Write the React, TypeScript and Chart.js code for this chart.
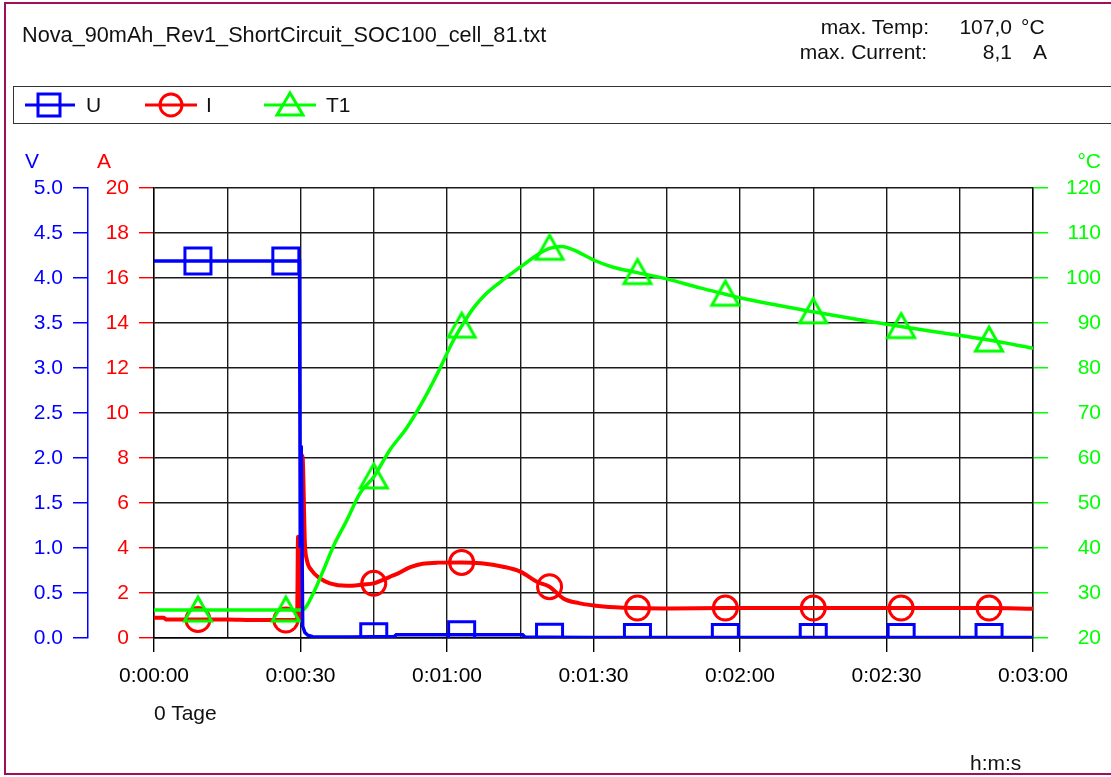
import React, { useEffect, useRef } from 'react';
import { Chart, registerables } from 'chart.js';

Chart.register(...registerables);

// ---------- data ----------
const TITLE = 'Nova_90mAh_Rev1_ShortCircuit_SOC100_cell_81.txt';
const SERIES_NAMES = ['U', 'I', 'T1'];
const AXIS_UNITS = ['V', 'A', '°C'];
const MAX_TEMP_TEXT = ['max. Temp:', '107,0', '°C'];
const MAX_CURRENT_TEXT = ['max. Current:', '8,1', 'A'];
const X_TICK_LABELS = ['0:00:00', '0:00:30', '0:01:00', '0:01:30', '0:02:00', '0:02:30', '0:03:00'];
const DAYS_LABEL = '0 Tage';
const TIME_UNIT = 'h:m:s';

const MARKER_TIMES = [9, 27, 45, 63, 81, 99, 117, 135, 153, 171];

const U_TIME = [0, 9, 27, 29.8, 29.95, 30.15, 30.45, 30.9, 31.5, 32.5, 34, 36, 40, 45, 49.2, 49.6, 55, 63, 70, 75.5, 76, 81, 90, 99, 117, 135, 153, 171, 180];
const U_VALUES = [4.19, 4.19, 4.19, 4.19, 1.0, 2.14, 0.13, 0.06, 0.03, 0.015, 0.012, 0.012, 0.012, 0.015, 0.015, 0.035, 0.035, 0.037, 0.035, 0.035, 0.008, 0.008, 0.005, 0.006, 0.006, 0.006, 0.006, 0.006, 0.005];

const I_TIME = [0, 2, 2.5, 9, 15, 20, 27, 29.3, 29.5, 29.7, 30.1, 30.4, 30.9, 31.3, 32.3, 34, 36, 39.5, 42.9, 45, 48.3, 50, 52.5, 55, 58, 63, 67, 71.5, 75, 78.4, 81, 83.8, 87, 92, 99, 106, 117, 135, 153, 171, 180];
const I_VALUES = [0.9, 0.9, 0.82, 0.82, 0.82, 0.8, 0.8, 0.8, 4.5, 0.8, 0.8, 8.1, 4.2, 3.47, 3.0, 2.65, 2.43, 2.32, 2.38, 2.43, 2.72, 2.87, 3.15, 3.3, 3.35, 3.36, 3.32, 3.17, 2.95, 2.5, 2.28, 1.76, 1.55, 1.4, 1.33, 1.31, 1.33, 1.33, 1.33, 1.33, 1.3];

const T_TIME = [0, 9, 27, 30, 30.6, 32.6, 34.7, 36.7, 39.5, 42.2, 45, 48.3, 51.7, 55.2, 58.6, 61, 63, 65.4, 68, 70.9, 75, 79, 81, 83.5, 86, 90, 94, 99, 105, 111.8, 117, 120, 135, 153, 171, 180];
const T_VALUES = [26.2, 26.2, 26.2, 26.2, 26.3, 29.9, 35.1, 40.3, 46.2, 52.2, 55.8, 61.8, 66.6, 72.9, 80.0, 85.5, 89.3, 93.3, 96.5, 99.1, 102.4, 105.5, 106.6, 107.0, 106.2, 104.0, 102.4, 101.2, 99.8, 97.8, 96.4, 95.6, 92.5, 89.2, 86.2, 84.4];

// ---------- styles ----------
const FONT = '"Liberation Sans", Arial, Helvetica, sans-serif';
const BLUE = '#0000FF';
const RED = '#FF0000';
const GREEN = '#00FF00';
const GRID = '#1a1a1a';
const FRAME = '#A0105A';
const W = 1111;
const H = 777;

const toPoints = (ts: number[], vs: number[]) => ts.map((t, i) => ({ x: t, y: vs[i] }));
const markerRadius = (r: number) => (ctx: any) =>
  ctx.raw && MARKER_TIMES.includes(ctx.raw.x) ? r : 0;

function makeTriangle(): HTMLCanvasElement {
  const c = document.createElement('canvas');
  c.width = 40;
  c.height = 40;
  const g = c.getContext('2d')!;
  g.strokeStyle = GREEN;
  g.lineWidth = 3;
  g.lineJoin = 'miter';
  g.beginPath();
  g.moveTo(20, 20 - 13);
  g.lineTo(20 + 13.5, 20 + 11);
  g.lineTo(20 - 13.5, 20 + 11);
  g.closePath();
  g.stroke();
  return c;
}

function Txt(props: { x?: number; right?: number; top: number; size: number; color?: string; children: React.ReactNode }) {
  const st: React.CSSProperties = {
    position: 'absolute',
    top: props.top,
    fontSize: props.size,
    lineHeight: 1,
    color: props.color || '#000',
    fontFamily: FONT,
    whiteSpace: 'nowrap',
  };
  if (props.right !== undefined) st.right = W - props.right;
  else st.left = props.x;
  return <div style={st}>{props.children}</div>;
}

export default function App() {
  const ref = useRef<HTMLCanvasElement | null>(null);

  useEffect(() => {
    if (!ref.current) return;
    Chart.defaults.font.family = FONT;
    Chart.defaults.font.size = 21;
    const tri = makeTriangle();
    const chart = new Chart(ref.current, {
      type: 'line',
      data: {
        datasets: [
          {
            label: SERIES_NAMES[0],
            data: toPoints(U_TIME, U_VALUES),
            yAxisID: 'yU',
            borderColor: BLUE,
            borderWidth: 3.5,
            tension: 0,
            pointStyle: 'rect',
            pointRadius: markerRadius(18.4),
            pointHoverRadius: markerRadius(18.4),
            pointBorderWidth: 3,
            pointBorderColor: BLUE,
            pointBackgroundColor: 'rgba(0,0,0,0)',
            order: 0,
          },
          {
            label: SERIES_NAMES[1],
            data: toPoints(I_TIME, I_VALUES),
            yAxisID: 'yA',
            borderColor: RED,
            borderWidth: 4,
            cubicInterpolationMode: 'monotone',
            pointStyle: 'circle',
            pointRadius: markerRadius(12),
            pointHoverRadius: markerRadius(12),
            pointBorderWidth: 3,
            pointBorderColor: RED,
            pointBackgroundColor: 'rgba(0,0,0,0)',
            order: 2,
          },
          {
            label: SERIES_NAMES[2],
            data: toPoints(T_TIME, T_VALUES),
            yAxisID: 'yT',
            borderColor: GREEN,
            borderWidth: 3.5,
            cubicInterpolationMode: 'monotone',
            pointStyle: tri,
            pointRadius: markerRadius(16),
            pointHoverRadius: markerRadius(16),
            pointBorderWidth: 3,
            pointBorderColor: GREEN,
            pointBackgroundColor: 'rgba(0,0,0,0)',
            order: 1,
          },
        ],
      },
      options: {
        animation: false,
        responsive: false,
        maintainAspectRatio: false,
        events: [],
        layout: { padding: { left: 10, right: 10, top: 188, bottom: 79 } },
        plugins: { legend: { display: false }, tooltip: { enabled: false } },
        scales: {
          x: {
            type: 'linear',
            min: 0,
            max: 180,
            ticks: {
              stepSize: 15,
              maxTicksLimit: 100,
              autoSkip: false,
              maxRotation: 0,
              minRotation: 0,
              padding: 12,
              color: '#000',
              callback: (v: any) => (Number(v) % 30 === 0 ? X_TICK_LABELS[Number(v) / 30] : ''),
            },
            grid: {
              color: GRID,
              lineWidth: 1.4,
              tickLength: 14,
              tickColor: (ctx: any) => (ctx.tick && ctx.tick.value % 30 === 0 ? '#000' : 'rgba(0,0,0,0)'),
            },
            border: { color: '#000', width: 1.4 },
            afterFit: (s: any) => { s.height = 60; },
          },
          yA: {
            type: 'linear',
            position: 'left',
            weight: 0,
            min: 0,
            max: 20,
            ticks: { stepSize: 2, color: RED, padding: 10 },
            grid: { color: GRID, lineWidth: 1.4, tickLength: 15, tickColor: RED },
            border: { color: '#000', width: 1.4 },
            afterFit: (s: any) => { s.width = 66; },
          },
          yU: {
            type: 'linear',
            position: 'left',
            weight: 1,
            min: 0,
            max: 5,
            ticks: { stepSize: 0.5, color: BLUE, padding: 10, callback: (v: any) => Number(v).toFixed(1) },
            grid: { drawOnChartArea: false, color: BLUE, lineWidth: 1.5, tickLength: 15, tickColor: BLUE },
            border: { color: BLUE, width: 1.5 },
            afterFit: (s: any) => { s.width = 78; },
          },
          yT: {
            type: 'linear',
            position: 'right',
            min: 20,
            max: 120,
            ticks: { stepSize: 10, color: GREEN, padding: 10, crossAlign: 'far' },
            grid: { drawOnChartArea: false, color: GREEN, lineWidth: 1.5, tickLength: 15, tickColor: GREEN },
            border: { color: '#000', width: 1.4 },
            afterFit: (s: any) => { s.width = 68; },
          },
        },
      },
    } as any);
    return () => chart.destroy();
  }, []);

  return (
    <div style={{ position: 'absolute', left: 0, top: 0, width: W, height: H, overflow: 'hidden', background: '#fff' }}>
      <canvas ref={ref} width={W} height={H} style={{ position: 'absolute', left: 0, top: 0, width: W, height: H }} />
      {/* frame */}
      <div style={{ position: 'absolute', left: 4, top: 2, width: W + 20, height: H - 4, border: `2px solid ${FRAME}`, boxSizing: 'border-box' }} />
      {/* header */}
      <Txt x={22} top={24.4} size={21.7} color="#111">{TITLE}</Txt>
      <Txt right={929} top={16} size={21} color="#111">{MAX_TEMP_TEXT[0]}</Txt>
      <Txt right={1012} top={16} size={21} color="#111">{MAX_TEMP_TEXT[1]}</Txt>
      <Txt x={1021} top={16} size={21} color="#111">{MAX_TEMP_TEXT[2]}</Txt>
      <Txt right={927} top={41} size={21} color="#111">{MAX_CURRENT_TEXT[0]}</Txt>
      <Txt right={1012} top={41} size={21} color="#111">{MAX_CURRENT_TEXT[1]}</Txt>
      <Txt x={1033} top={41} size={21} color="#111">{MAX_CURRENT_TEXT[2]}</Txt>
      {/* legend */}
      <div style={{ position: 'absolute', left: 13, top: 86, width: W + 20, height: 38, border: '1.5px solid #333', boxSizing: 'border-box' }} />
      <svg width={W} height={130} style={{ position: 'absolute', left: 0, top: 0 }}>
        <g fill="none" strokeWidth={3}>
          <line x1={25} y1={105} x2={75} y2={105} stroke={BLUE} />
          <rect x={38} y={94} width={22} height={22} stroke={BLUE} />
          <line x1={145} y1={105} x2={197} y2={105} stroke={RED} />
          <circle cx={171} cy={105} r={11} stroke={RED} />
          <line x1={264} y1={105} x2={316} y2={105} stroke={GREEN} />
          <polygon points="290,93 277,115 303,115" stroke={GREEN} />
        </g>
      </svg>
      <Txt x={86} top={94} size={21} color="#111">{SERIES_NAMES[0]}</Txt>
      <Txt x={206} top={94} size={21} color="#111">{SERIES_NAMES[1]}</Txt>
      <Txt x={326} top={94} size={21} color="#111">{SERIES_NAMES[2]}</Txt>
      {/* axis units */}
      <Txt x={25} top={150} size={21} color={BLUE}>{AXIS_UNITS[0]}</Txt>
      <Txt x={97} top={150} size={21} color={RED}>{AXIS_UNITS[1]}</Txt>
      <Txt right={1101} top={150} size={21} color={GREEN}>{AXIS_UNITS[2]}</Txt>
      {/* x annotations */}
      <Txt x={154} top={702} size={21} color="#111">{DAYS_LABEL}</Txt>
      <Txt x={970} top={752} size={21} color="#111">{TIME_UNIT}</Txt>
    </div>
  );
}
